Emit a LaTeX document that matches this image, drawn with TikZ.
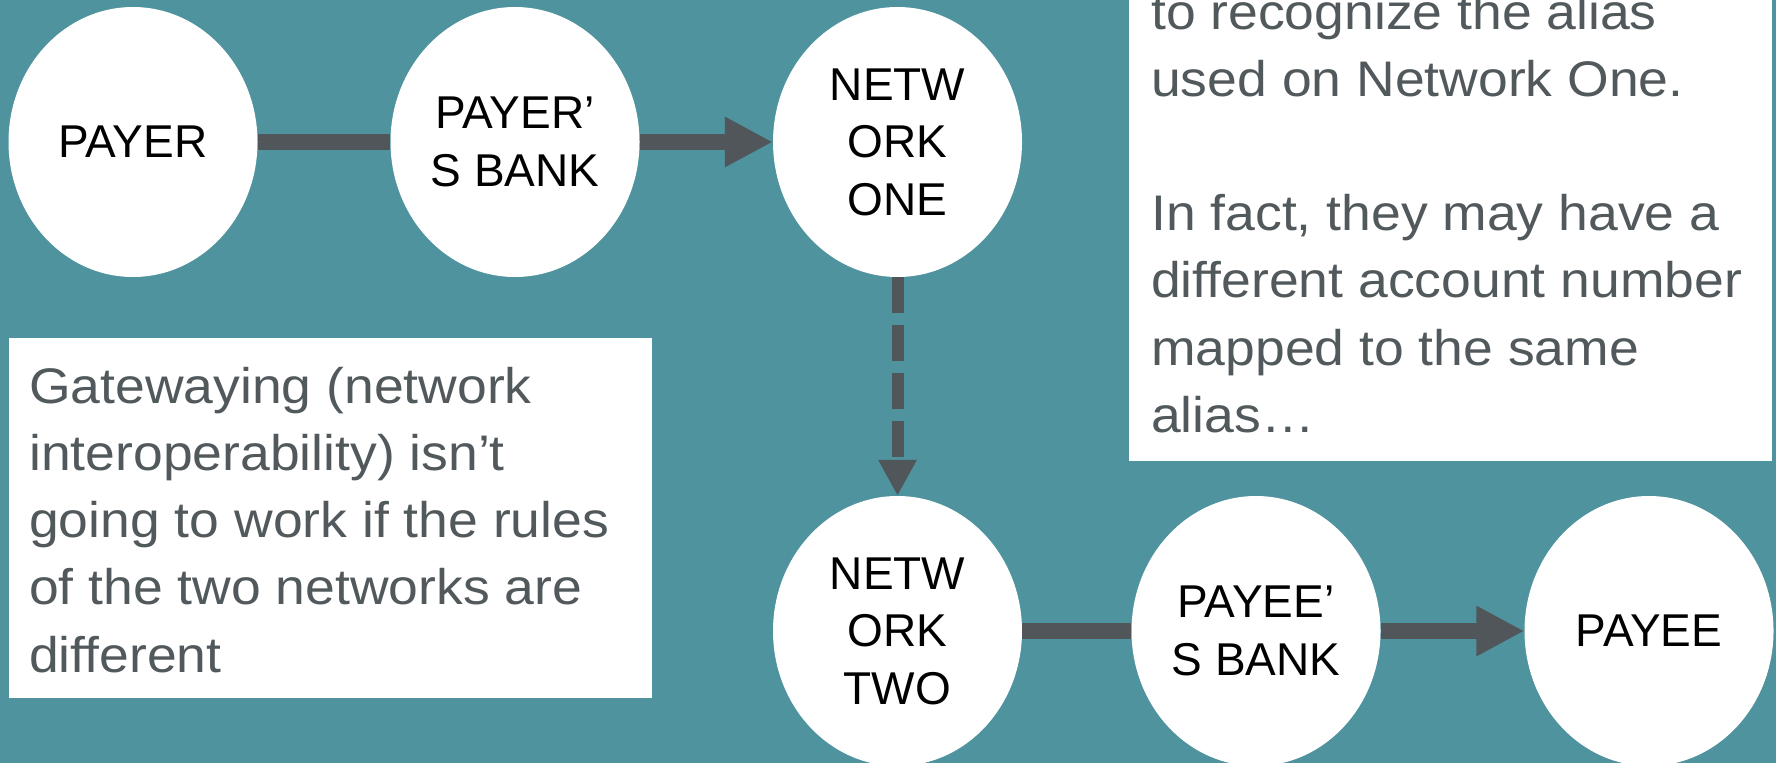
\documentclass[tikz,border=0pt]{standalone}
\usepackage{fontspec}
\setmainfont{Liberation Sans}
\newfontfamily\boxfont[FakeStretch=1.07]{Liberation Sans}
\usetikzlibrary{arrows.meta,shapes.geometric}
\definecolor{bgteal}{RGB}{78,147,157}
\definecolor{arrowgray}{RGB}{80,86,89}
\definecolor{textgray}{RGB}{82,89,93}
\begin{document}
\begin{tikzpicture}[x=1pt,y=-1pt,
  circ/.style={ellipse, fill=white, minimum width=249pt, minimum height=270pt, inner sep=0pt, align=center, text=black, font=\fontsize{46}{57.5}\selectfont},
  link/.style={draw=arrowgray, line width=16pt},
  flow/.style={link, -{Triangle[length=48pt,width=47pt]}},
  dflow/.style={draw=arrowgray, line width=12pt, dash pattern=on 36pt off 12pt, -{Triangle[length=36pt,width=36pt]}},
  whitebox/.style={fill=white, draw=none},
  boxline/.style={anchor=base west, inner sep=0pt, text=textgray, font=\boxfont\fontsize{50}{67}\selectfont}
]
\useasboundingbox (0,0) rectangle (1776,763);
\clip (0,0) rectangle (1776,763);
\fill[bgteal] (0,0) rectangle (1776,763);

% text boxes
\path[whitebox] (9,338) rectangle (652,698);
\path[whitebox] (1129,-20) rectangle (1772,461);

\node[boxline] (l1) at (29,403) {Gatewaying (network};
\node[boxline] (l2) at (29,470.25) {interoperability) isn’t};
\node[boxline] (l3) at (29,537.5) {going to work if the rules};
\node[boxline] (l4) at (29,604.75) {of the two networks are};
\node[boxline] (l5) at (29,672) {different};

\node[boxline] (r1) at (1151,29) {to recognize the alias};
\node[boxline] (r2) at (1151,96.2) {used on Network One.};
\node[boxline] (r3) at (1151,230.6) {In fact, they may have a};
\node[boxline] (r4) at (1151,297.8) {different account number};
\node[boxline] (r5) at (1151,365) {mapped to the same};
\node[boxline] (r6) at (1151,432.2) {alias…};

% circles
\node[circ] (payer) at (133,142) {PAYER};
\node[circ] (payerbank) at (515,142) {PAYER’\\S BANK};
\node[circ] (netone) at (897.5,142) {NETW\\ORK\\ONE};
\node[circ] (nettwo) at (897.5,631) {NETW\\ORK\\TWO};
\node[circ] (payeebank) at (1256,631) {PAYEE’\\S BANK};
\node[circ] (payee) at (1649,631) {PAYEE};

% connectors
\draw[link] (payer) -- (payerbank);
\draw[flow] (payerbank) -- (netone);
\draw[dflow] (netone) -- (nettwo);
\draw[link] (nettwo) -- (payeebank);
\draw[flow] (payeebank) -- (payee);
\end{tikzpicture}
\end{document}
